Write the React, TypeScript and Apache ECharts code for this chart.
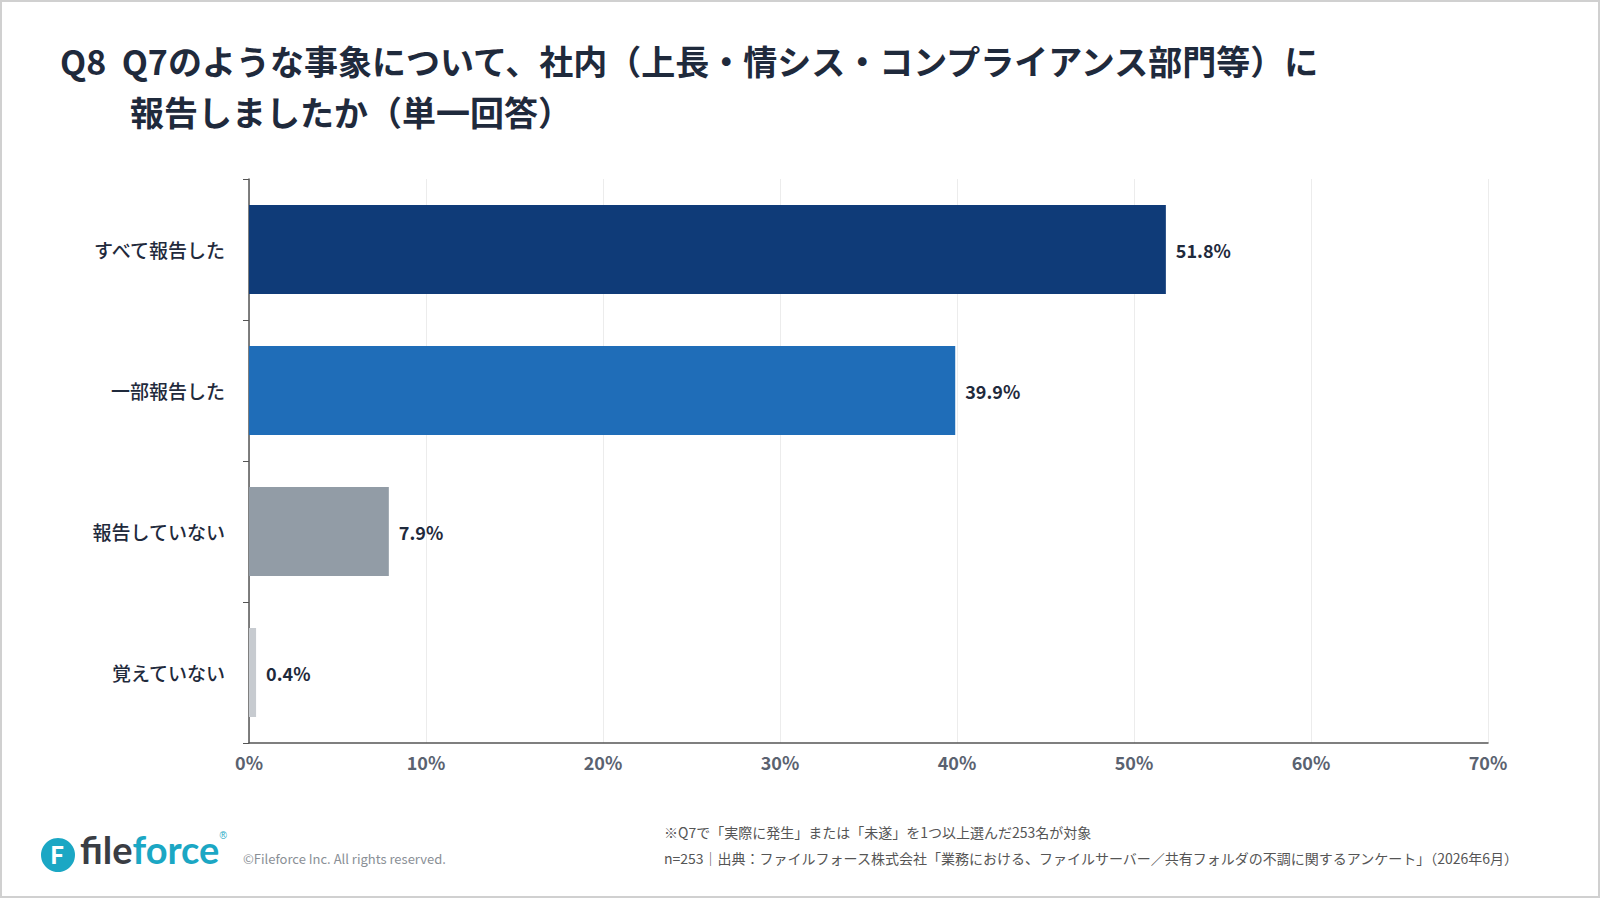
import React, { useEffect, useRef } from "react";
import * as echarts from "echarts";

const categories = ["すべて報告した", "一部報告した", "報告していない", "覚えていない"];
const values = [51.8, 39.9, 7.9, 0.4];
const barColors = ["#0f3b78", "#1f6db8", "#929ca6", "#c7cbd0"];
const xTicks = [0, 10, 20, 30, 40, 50, 60, 70];

const FONT = "'Noto Sans CJK JP', 'Noto Sans', sans-serif";

const App: React.FC = () => {
  const chartRef = useRef<HTMLDivElement>(null);

  useEffect(() => {
    document.body.style.margin = "0";
    if (!chartRef.current) return;
    const chart = echarts.init(chartRef.current, undefined, { renderer: "svg" });

    const option = {
      animation: false,
      backgroundColor: "#ffffff",
      textStyle: { fontFamily: FONT },
      grid: { left: 249, right: 112, top: 179, bottom: 155 },
      xAxis: {
        type: "value",
        min: 0,
        max: 70,
        interval: 10,
        axisLine: { show: true, lineStyle: { color: "#555", width: 1.5 } },
        axisTick: { show: false },
        splitLine: { show: true, lineStyle: { color: "#ececec" } },
        axisLabel: {
          formatter: (v: number) => (xTicks.includes(v) ? v + "%" : ""),
          color: "#5a6270",
          fontSize: 18,
          fontWeight: "bold",
          margin: 10,
        },
      },
      yAxis: {
        type: "category",
        inverse: true,
        data: categories,
        axisLine: { show: true, lineStyle: { color: "#555", width: 1.5 } },
        axisTick: { show: true, length: 6, lineStyle: { color: "#555" } },
        axisLabel: { color: "#1f2a3c", fontSize: 19, fontWeight: 500, margin: 24 },
      },
      series: [
        {
          type: "bar",
          data: values.map((v, i) => ({ value: v, itemStyle: { color: barColors[i] } })),
          barCategoryGap: "37%",
          label: {
            show: true,
            position: "right",
            distance: 10,
            formatter: (p: any) => p.value.toFixed(1) + "%",
            color: "#1f2a3c",
            fontSize: 18,
            fontWeight: "bold",
          },
        },
      ],
      graphic: [
        {
          type: "rect",
          shape: { x: 1, y: 1, width: 1598, height: 896 },
          style: { fill: "none", stroke: "#d0d0d0", lineWidth: 2 },
          silent: true,
        },
        {
          type: "text",
          left: 60,
          top: 43,
          style: {
            text: "Q8  Q7のような事象について、社内（上長・情シス・コンプライアンス部門等）に",
            fontSize: 34,
            fontWeight: "bold",
            fill: "#1f2a3c",
            fontFamily: FONT,
          },
        },
        {
          type: "text",
          left: 130,
          top: 94,
          style: {
            text: "報告しましたか（単一回答）",
            fontSize: 34,
            fontWeight: "bold",
            fill: "#1f2a3c",
            fontFamily: FONT,
          },
        },
        {
          type: "text",
          left: 664,
          top: 825,
          style: {
            text: "※Q7で「実際に発生」または「未遂」を1つ以上選んだ253名が対象",
            fontSize: 14,
            fill: "#555",
            fontFamily: FONT,
          },
        },
        {
          type: "text",
          left: 664,
          top: 851,
          style: {
            text: "n=253｜出典：ファイルフォース株式会社「業務における、ファイルサーバー／共有フォルダの不調に関するアンケート」（2026年6月）",
            fontSize: 14,
            fill: "#555",
            fontFamily: FONT,
          },
        },
        {
          type: "circle",
          shape: { cx: 58, cy: 855, r: 17 },
          style: { fill: "#1ba7c4" },
        },
        {
          type: "text",
          left: 50,
          top: 841,
          style: { text: "F", fontSize: 24, fontWeight: "bold", fill: "#fff", fontFamily: FONT },
        },
        {
          type: "text",
          left: 80,
          top: 830,
          style: {
            text: "{a|file}{b|force}{c|®}",
            rich: {
              a: { fontSize: 38, fontWeight: "bold", fill: "#3a3d44", fontFamily: "Lato, sans-serif" },
              b: { fontSize: 38, fontWeight: "bold", fill: "#1ba7c4", fontFamily: "Lato, sans-serif" },
              c: { fontSize: 10, fill: "#1ba7c4", verticalAlign: "top" },
            },
          },
        },
        {
          type: "text",
          left: 243,
          top: 852,
          style: { text: "©Fileforce Inc. All rights reserved.", fontSize: 13, fill: "#8a8f96", fontFamily: FONT },
        },
      ],
    };

    chart.setOption(option);
    return () => chart.dispose();
  }, []);

  return <div ref={chartRef} style={{ width: 1600, height: 898 }} />;
};

export default App;
